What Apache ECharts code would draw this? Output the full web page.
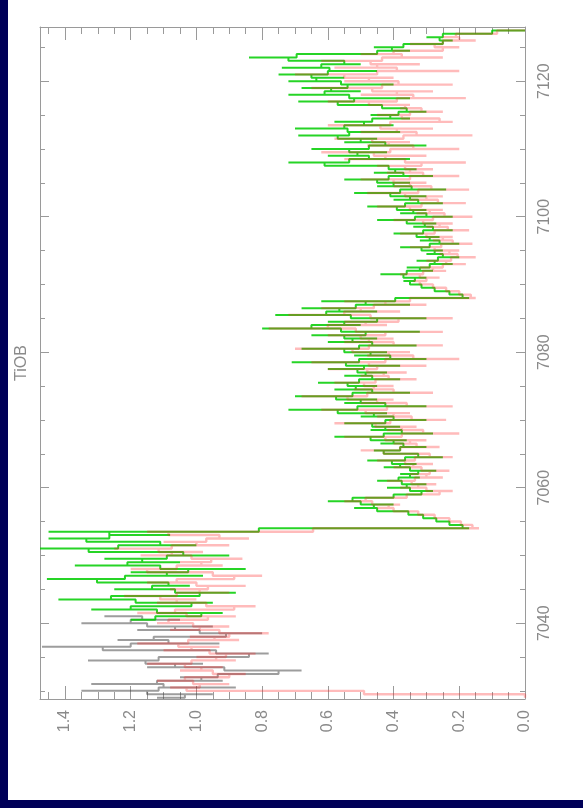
<!DOCTYPE html>
<html>
<head>
<meta charset="utf-8">
<script src="https://cdn.jsdelivr.net/npm/echarts@6/dist/echarts.min.js"></script>
<style>
  html, body { margin: 0; padding: 0; width: 583px; height: 808px; overflow: hidden; background: #000058; }
  #chart { position: absolute; left: 8px; top: 0; width: 575px; height: 800px; background: #ffffff; }
</style>
</head>
<body>
<div id="chart"></div>
<script>
// Spectrum sampling: uniform wavelength grid (Angstrom)
const lambdaStart = 7029.0;
const lambdaStep = 0.5;

// Plot ranges
const fluxRange = [0, 1.476];
const lambdaRange = [7028.8, 7128.0];

// Tick positions
const fluxMajorTicks = [0, 0.2, 0.4, 0.6, 0.8, 1.0, 1.2, 1.4];
const fluxMinorTicks = [0.05, 0.1, 0.15, 0.25, 0.3, 0.35, 0.45, 0.5, 0.55, 0.65, 0.7, 0.75,
  0.85, 0.9, 0.95, 1.05, 1.1, 1.15, 1.25, 1.3, 1.35, 1.45];
const lambdaMajorTicks = [7040, 7060, 7080, 7100, 7120];
const lambdaMinorTicks = [7030, 7035, 7045, 7050, 7055, 7065, 7070, 7075, 7085, 7090, 7095,
  7105, 7110, 7115, 7125];

const plotTitle = 'TiOB';

// Grey spectrum, starts at grid index 0
const grayStart = 0;
const grayFlux = [1.12, 0.95, 1.35, 0.88, 1.32, 0.92, 1.05, 0.82, 0.68, 1.15,
  0.98, 1.33, 0.90, 0.78, 1.10, 1.47, 0.93, 1.24, 1.02, 0.80,
  1.18, 0.95, 1.35, 1.05, 1.28];

// Red spectrum, starts at grid index 0
const redStart = 0;
const redFlux = [
  0, 0, 0.98, 1.08, 0.90, 1.12, 0.95, 0.85, 1.05, 0.92,
  1.15, 0.88, 1.00, 0.82, 1.10, 0.93, 1.18, 0.87, 1.02, 0.78,
  1.08, 0.90, 1.12,
  1.05, 0.88, 1.18, 0.95, 0.82, 1.12, 1.00, 1.22, 0.90, 1.08,
  0.85, 1.15, 0.97, 0.80, 1.10, 1.20, 0.92, 1.05, 0.86, 1.17,
  0.98, 1.25, 0.90, 1.10, 0.84, 1.02, 1.15,
  0.14, 0.18, 0.21, 0.25, 0.30, 0.35,
  0.45, 0.38, 0.55, 0.42,
  0.30, 0.22, 0.38, 0.27, 0.42, 0.25, 0.35, 0.23, 0.40,
  0.28, 0.45, 0.22, 0.36, 0.50, 0.26, 0.40,
  0.30, 0.55, 0.20, 0.42, 0.33, 0.58, 0.24, 0.45,
  0.35, 0.62, 0.22, 0.50, 0.40, 0.68, 0.28, 0.52,
  0.40, 0.58, 0.33, 0.50, 0.36, 0.60,
  0.30, 0.65, 0.20, 0.48, 0.35, 0.70, 0.25, 0.55, 0.40,
  0.60, 0.25, 0.78, 0.42, 0.55, 0.22, 0.72, 0.38,
  0.62, 0.30, 0.55,
  0.15, 0.18, 0.22, 0.26, 0.30, 0.34,
  0.26, 0.38, 0.24, 0.32,
  0.18, 0.30, 0.15, 0.26,
  0.20, 0.35, 0.16, 0.28, 0.22, 0.38, 0.17, 0.30,
  0.22, 0.40, 0.16, 0.33, 0.25, 0.45, 0.18, 0.35,
  0.25, 0.48, 0.17, 0.40, 0.30, 0.50, 0.20, 0.42, 0.28,
  0.45, 0.18, 0.55, 0.30, 0.62, 0.20, 0.48, 0.35, 0.58, 0.16, 0.50, 0.28, 0.60, 0.22,
  0.30, 0.45, 0.25, 0.38,
  0.35, 0.60, 0.18, 0.50, 0.28, 0.65, 0.22, 0.55, 0.40, 0.70, 0.20, 0.58, 0.32, 0.62, 0.25, 0.50,
  0.30, 0.20, 0.35,
  0.15, 0.25, 0.17, 0
];

// Green spectrum, starts at grid index 23 (7040.5 A)
const greenStart = 23;
const greenFlux = [
  1.20, 1.05, 0.92, 1.32, 1.08, 0.95, 1.42, 1.10, 0.88, 1.25,
  1.02, 1.15, 1.455, 0.98, 1.20, 0.85, 1.37, 1.05, 1.28, 0.90,
  1.18, 1.476, 1.00, 1.22, 1.45, 1.08, 1.45,
  0.17, 0.21, 0.25, 0.29, 0.33, 0.38,
  0.52, 0.40, 0.60, 0.45,
  0.35, 0.28, 0.42, 0.30, 0.45, 0.32, 0.38, 0.27, 0.43,
  0.33, 0.48, 0.25, 0.40, 0.46, 0.30, 0.44,
  0.36, 0.58, 0.28, 0.47, 0.38, 0.55, 0.30, 0.50,
  0.42, 0.72, 0.30, 0.55, 0.45, 0.70, 0.35, 0.58,
  0.45, 0.63, 0.38, 0.55, 0.42, 0.60,
  0.38, 0.71, 0.30, 0.52, 0.42, 0.68, 0.33, 0.60, 0.45,
  0.65, 0.32, 0.80, 0.50, 0.60, 0.30, 0.76, 0.45,
  0.68, 0.35, 0.62,
  0.17, 0.21, 0.25, 0.30, 0.33, 0.37,
  0.30, 0.44, 0.28, 0.36,
  0.22, 0.33, 0.20, 0.30,
  0.25, 0.38, 0.20, 0.32, 0.26, 0.40, 0.22, 0.34,
  0.27, 0.45, 0.22, 0.38, 0.30, 0.48, 0.25, 0.40,
  0.30, 0.52, 0.24, 0.45, 0.35, 0.55, 0.28, 0.46, 0.33,
  0.50, 0.72, 0.35, 0.60, 0.42, 0.65, 0.30, 0.55, 0.45, 0.69, 0.38, 0.70, 0.40, 0.58,
  0.35, 0.47, 0.30, 0.42,
  0.45, 0.69, 0.35, 0.72, 0.50, 0.68, 0.40, 0.72, 0.55, 0.75, 0.45, 0.74, 0.50, 0.60, 0.84, 0.55,
  0.35, 0.46, 0.28,
  0.22, 0.30, 0.20, 0
];

// [flux, wavelength] pairs for a spectrum starting at a grid index
function toPoints(values, startIndex) {
  return values.map((f, k) => [f, lambdaStart + (startIndex + k) * lambdaStep]);
}

const axisGray = '#9a9a9a';
const labelFont = { color: '#8a8a8a', fontSize: 16, fontFamily: 'Liberation Sans, Arial, sans-serif' };

// Flux axis (horizontal, increasing to the left)
function fluxAxis(position, opts) {
  return {
    type: 'value', position: position, inverse: true,
    min: fluxRange[0], max: fluxRange[1],
    axisLine: { show: opts.line, onZero: false, lineStyle: { color: axisGray, width: 1 } },
    axisTick: { show: true, inside: true, length: opts.tickLen,
      customValues: opts.ticks, lineStyle: { color: axisGray } },
    minorTick: { show: false },
    splitLine: { show: false },
    axisLabel: Object.assign({
      show: opts.labels, rotate: 90, margin: 11,
      customValues: fluxMajorTicks,
      formatter: v => v.toFixed(1)
    }, labelFont)
  };
}

// Wavelength axis (vertical, increasing upwards)
function lambdaAxis(position, opts) {
  return {
    type: 'value', position: position,
    min: lambdaRange[0], max: lambdaRange[1],
    axisLine: { show: opts.line, onZero: false, lineStyle: { color: axisGray, width: 1 } },
    axisTick: { show: true, inside: true, length: opts.tickLen,
      customValues: opts.ticks, lineStyle: { color: axisGray } },
    minorTick: { show: false },
    splitLine: { show: false },
    axisLabel: Object.assign({
      show: opts.labels, rotate: 90, margin: 12,
      customValues: lambdaMajorTicks,
      formatter: v => String(Math.round(v))
    }, labelFont)
  };
}

function spectrum(name, values, start, color, width) {
  return {
    name: name, type: 'line', xAxisIndex: 0, yAxisIndex: 0,
    data: toPoints(values, start), step: 'middle',
    symbol: 'none', clip: true,
    lineStyle: { color: color, width: width },
    emphasis: { disabled: true }
  };
}

const chart = echarts.init(document.getElementById('chart'), null, { renderer: 'canvas' });
chart.setOption({
  animation: false,
  backgroundColor: '#ffffff',
  grid: { left: 32, right: 58, top: 27, bottom: 101, containLabel: false },
  xAxis: [
    fluxAxis('bottom', { line: true, labels: true, tickLen: 13, ticks: fluxMajorTicks }),
    fluxAxis('top', { line: true, labels: false, tickLen: 13, ticks: fluxMajorTicks }),
    fluxAxis('bottom', { line: false, labels: false, tickLen: 7, ticks: fluxMinorTicks }),
    fluxAxis('top', { line: false, labels: false, tickLen: 7, ticks: fluxMinorTicks })
  ],
  yAxis: [
    lambdaAxis('right', { line: true, labels: true, tickLen: 9, ticks: lambdaMajorTicks }),
    lambdaAxis('left', { line: true, labels: false, tickLen: 9, ticks: lambdaMajorTicks }),
    lambdaAxis('right', { line: false, labels: false, tickLen: 5, ticks: lambdaMinorTicks }),
    lambdaAxis('left', { line: false, labels: false, tickLen: 5, ticks: lambdaMinorTicks })
  ],
  graphic: [{
    type: 'text', x: 14, y: 363, rotation: Math.PI / 2,
    style: {
      text: plotTitle, fill: '#8a8a8a', fontSize: 16,
      fontFamily: 'Liberation Sans, Arial, sans-serif',
      align: 'center', verticalAlign: 'middle'
    }
  }],
  series: [
    spectrum('grey', grayFlux, grayStart, 'rgba(60,60,60,0.5)', 2),
    spectrum('green', greenFlux, greenStart, 'rgba(0,205,0,0.85)', 2),
    spectrum('red', redFlux, redStart, 'rgba(255,30,30,0.3)', 2.4)
  ]
});
</script>
</body>
</html>
